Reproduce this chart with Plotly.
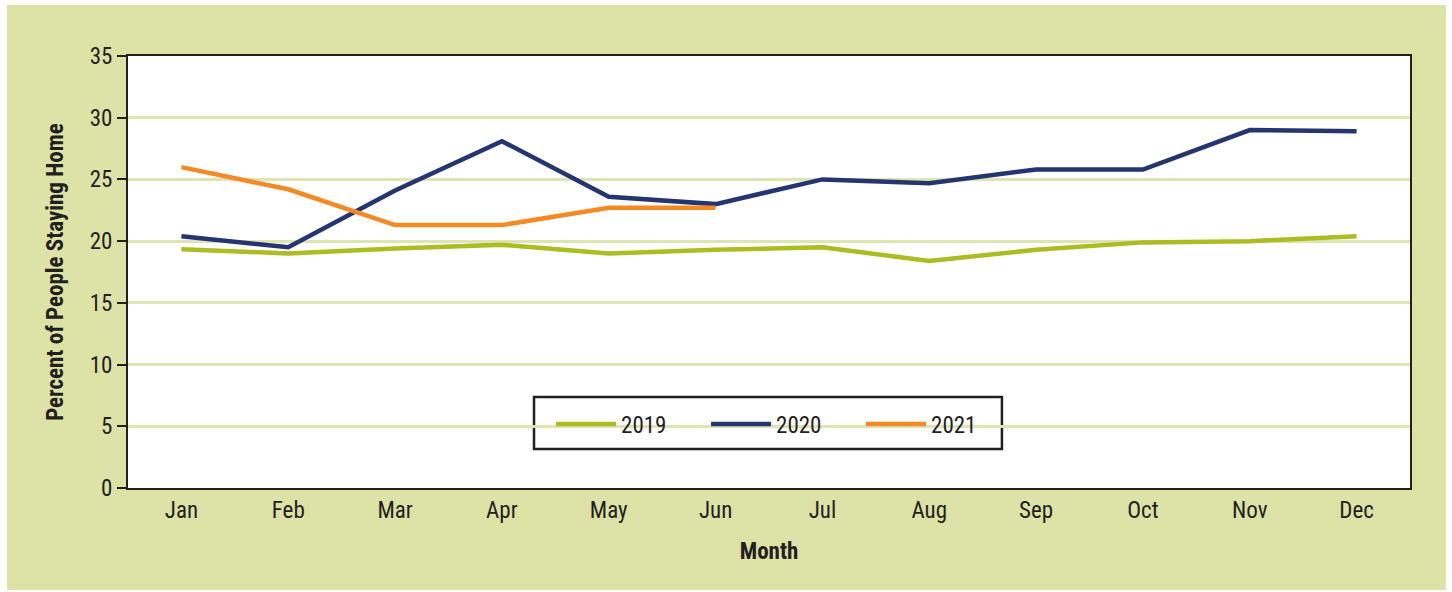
import plotly.graph_objects as go

months = ["Jan", "Feb", "Mar", "Apr", "May", "Jun", "Jul", "Aug", "Sep", "Oct", "Nov", "Dec"]
y2019 = [19.35, 19.0, 19.4, 19.7, 19.0, 19.3, 19.5, 18.4, 19.3, 19.9, 20.0, 20.4]
y2020 = [20.4, 19.5, 24.1, 28.1, 23.6, 23.0, 25.0, 24.7, 25.8, 25.8, 29.0, 28.9]
y2021 = [26.0, 24.2, 21.3, 21.3, 22.7, 22.7]
y_ticks = [0, 5, 10, 15, 20, 25, 30, 35]

FONT = "Liberation Sans Narrow, Roboto Condensed, Arial Narrow, sans-serif"
BG = "#dde2a7"
GRID = "#dfe4b3"
AX = "#231f20"

fig = go.Figure()
fig.add_trace(go.Scatter(x=months, y=y2019, mode="lines", name="2019",
                         line=dict(color="#abbd22", width=4.5)))
fig.add_trace(go.Scatter(x=months, y=y2020, mode="lines", name="2020",
                         line=dict(color="#243570", width=4.5)))
fig.add_trace(go.Scatter(x=months[:len(y2021)], y=y2021, mode="lines", name="2021",
                         line=dict(color="#f58a25", width=4.5)))

fig.update_layout(
    width=1452, height=592,
    margin=dict(l=128, r=42, t=56, b=104),
    paper_bgcolor="white",
    plot_bgcolor="white",
    font=dict(family=FONT, size=23, color=AX),
    shapes=[
        dict(type="rect", xref="paper", yref="paper", x0=-0.0944, x1=1.028, y0=-0.236, y1=1.118,
             fillcolor=BG, line=dict(width=0), layer="below"),
        dict(type="rect", xref="paper", yref="paper", x0=0, x1=1, y0=0, y1=1,
             fillcolor="white", line=dict(width=0), layer="below"),
        dict(type="rect", xref="paper", yref="paper", x0=0.3167, x1=0.6817, y0=0.0903, y1=0.2106,
             fillcolor="white", line=dict(width=2.5, color=AX), layer="between"),
    ],
    legend=dict(orientation="h", x=0.3300, xanchor="left", y=0.148, yanchor="middle",
                bgcolor="rgba(0,0,0,0)", borderwidth=0,
                font=dict(family=FONT, size=23, color=AX),
                entrywidth=80, entrywidthmode="pixels", itemwidth=60),
    showlegend=True,
)
fig.update_xaxes(
    type="category", range=[-0.5, 11.5],
    showline=True, linecolor=AX, linewidth=2, mirror=True,
    showgrid=False, ticks="", zeroline=False,
    tickfont=dict(family=FONT, size=23, color=AX),
    title=dict(text="<b>Month</b>", font=dict(family=FONT, size=23, color=AX), standoff=20),
)
fig.update_yaxes(
    range=[0, 35], tickvals=y_ticks,
    showline=True, linecolor=AX, linewidth=2, mirror=True,
    showgrid=True, gridcolor=GRID, gridwidth=2.5, zeroline=False,
    ticks="outside", ticklen=9, tickwidth=2, tickcolor=AX,
    tickfont=dict(family=FONT, size=23, color=AX),
    title=dict(text="<b>Percent of People Staying Home</b>", font=dict(family=FONT, size=23, color=AX), standoff=20),
)

fig.write_html("out.html", config={"displayModeBar": False},
               post_script="document.body.style.margin='0px';")
